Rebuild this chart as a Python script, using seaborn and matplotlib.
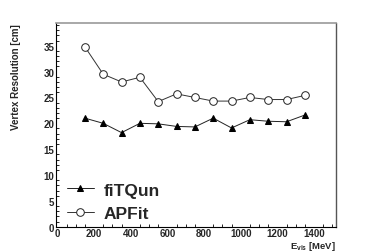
import matplotlib
matplotlib.use("Agg")
import matplotlib.pyplot as plt
import seaborn as sns
import pandas as pd
from matplotlib.ticker import MultipleLocator

energy = [150, 250, 350, 450, 550, 650, 750, 850, 950, 1050, 1150, 1250, 1350]
fitqun = [21.0, 20.0, 18.2, 20.0, 19.9, 19.4, 19.3, 21.0, 19.1, 20.7, 20.4, 20.3, 21.6]
apfit = [34.8, 29.5, 28.0, 28.9, 24.2, 25.7, 25.0, 24.3, 24.3, 25.0, 24.6, 24.6, 25.4]
series_names = ["fiTQun", "APFit"]

sns.set_theme(style="white")
plt.rcParams['font.family'] = ['Liberation Sans', 'DejaVu Sans']
plt.rcParams['mathtext.fontset'] = 'custom'
plt.rcParams['mathtext.rm'] = 'Liberation Sans:bold'
plt.rcParams['mathtext.bf'] = 'Liberation Sans:bold'

fig = plt.figure(figsize=(3.74, 2.53), dpi=100)
ax = fig.add_axes([0.150, 0.100, 0.748, 0.805])

df1 = pd.DataFrame({"E": energy, "res": fitqun})
df2 = pd.DataFrame({"E": energy, "res": apfit})
sns.lineplot(data=df1, x="E", y="res", ax=ax, color="#222222", lw=0.7,
             marker="^", markersize=5, markerfacecolor="black",
             markeredgecolor="black", label=series_names[0])
sns.lineplot(data=df2, x="E", y="res", ax=ax, color="#333333", lw=0.7,
             marker="o", markersize=5.5, markerfacecolor="white",
             markeredgecolor="#222222", markeredgewidth=0.7, label=series_names[1])

ax.set_xlim(-7, 1519)
ax.set_ylim(0, 39.4)
ax.xaxis.set_major_locator(MultipleLocator(200))
ax.xaxis.set_minor_locator(MultipleLocator(50))
ax.yaxis.set_major_locator(MultipleLocator(5))
ax.yaxis.set_minor_locator(MultipleLocator(1))
ax.tick_params(which="both", direction="in", top=False, right=False,
               labelsize=7, pad=1.2, color="black")
ax.tick_params(which="major", length=5, width=0.8)
ax.tick_params(which="minor", length=2.5, width=0.6, bottom=True, left=True)
for lab in ax.get_xticklabels() + ax.get_yticklabels():
    lab.set_fontweight("bold")

for s in ["left", "bottom"]:
    ax.spines[s].set_color("black")
    ax.spines[s].set_linewidth(0.8)
ax.spines["top"].set_color("#999999")
ax.spines["top"].set_linewidth(1.2)
ax.spines["right"].set_color("#555555")
ax.spines["right"].set_linewidth(1.0)

ax.set_xlabel(r"E$_{\mathbf{vis}}$ [MeV]", fontsize=6.8, fontweight="bold")
ax.xaxis.set_label_coords(1.0, -0.058)
ax.xaxis.label.set_horizontalalignment("right")
ax.xaxis.label.set_verticalalignment("top")
ax.set_ylabel("Vertex Resolution [cm]", fontsize=7, fontweight="bold")
ax.yaxis.set_label_coords(-0.125, 1.0)
ax.yaxis.label.set_horizontalalignment("right")

leg = ax.legend(loc="lower left", bbox_to_anchor=(0.0, -0.025), frameon=False,
                prop={"family": "Liberation Sans", "weight": "bold", "size": 12.5},
                handlelength=1.6, handletextpad=0.55, labelspacing=0.5,
                borderaxespad=0.2)

fig.savefig("out.png", dpi=100)
